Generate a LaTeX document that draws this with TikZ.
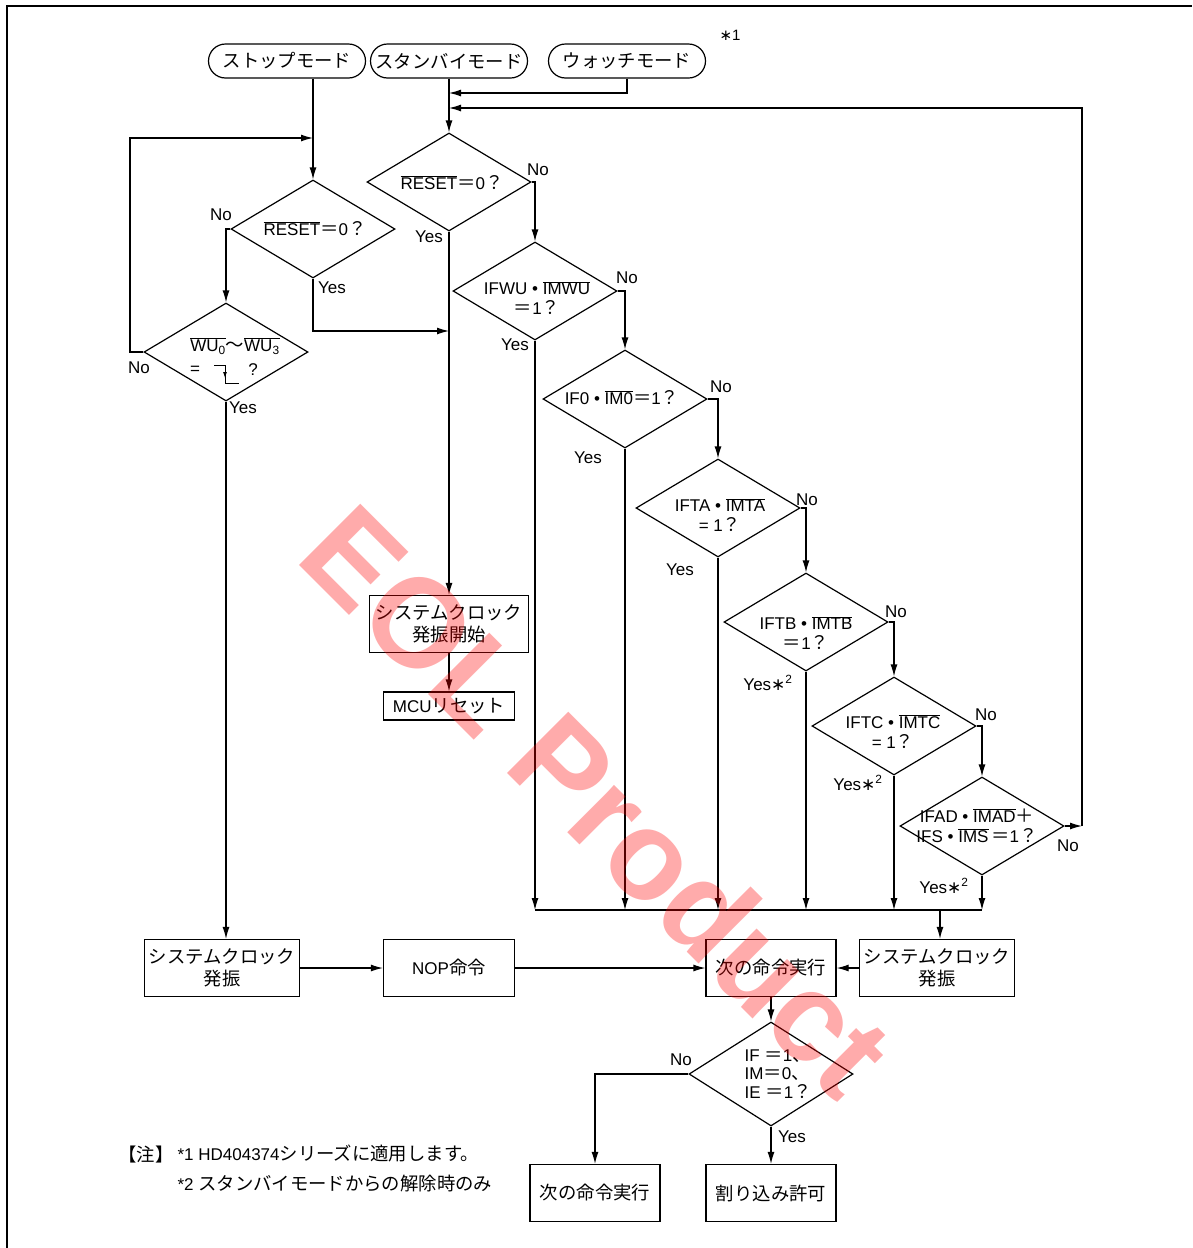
\documentclass[tikz,border=0pt]{standalone}
\usepackage{fontspec}
\setmainfont{Liberation Sans}
\newfontfamily\jp[Scale=1.08]{Noto Sans CJK JP}
\newfontfamily\djv{DejaVu Sans}
\usetikzlibrary{shapes.geometric,shapes.misc,arrows.meta}
\newcommand\J[1]{{\jp #1}}
\newcommand\ovl[1]{$\overline{\mbox{#1}}$}
\newcommand\sstar{{\djv ∗}}
\newcommand\ystar{Yes\sstar\textsuperscript{2}}
\begin{document}
\begin{tikzpicture}[x=1pt,y=-1pt,line width=1.2pt,
  font=\fontsize{17}{22}\selectfont,
  arr/.style={-{Latex[length=12pt,width=7pt]}},
  term/.style={draw,rounded rectangle,minimum width=157pt,minimum height=34pt,inner sep=0pt},
  box/.style={draw,rectangle,minimum width=#1,minimum height=57pt,inner sep=0pt,align=center},
  dia/.style={draw,diamond,minimum width=164pt,minimum height=98pt,inner sep=0pt},
  dtxt/.style={inner sep=0pt,align=center,font=\fontsize{17}{20}\selectfont},
  lbl/.style={inner sep=0pt}]
\useasboundingbox (0,0) rectangle (1192,1248);
\fill[white] (0,0) rectangle (1192,1248);
% frame
\draw[line width=2.5pt] (7,1248) -- (7,6) -- (1192,6);

% terminals
\node[term] (stop) at (287,61) {\J{ストップモード}};
\node[term] (sb) at (449,61) {\J{スタンバイモード}};
\node[term] (watch) at (627,61) {\J{ウォッチモード}};
\node[lbl,font=\fontsize{15}{18}\selectfont] (n1) at (730,35) {\sstar1};

% diamonds
\node[dia] (D1) at (449,182) {};
\node[dtxt] (D1t) at (452,183) {\ovl{RESET}\J{＝}0\J{？}};
\node[dia] (L1) at (313,229) {};
\node[dtxt] (L1t) at (315,229) {\ovl{RESET}\J{＝}0\J{？}};
\node[dia] (WU) at (226,352) {};
\node[dtxt] (WUt) at (235,346) {\ovl{WU\textsubscript{0}}\J{～}\ovl{WU\textsubscript{3}}};
\node[dtxt] (WUeq) at (195,370) {=};
\node[dtxt] (WUq) at (253,370) {?};
\draw[line width=1pt] (214,365) -- (225,365) -- (225,383) -- (239,383);
\draw[-{Latex[length=6pt,width=4pt]},line width=0.8pt] (225,368) -- (225,378);

\node[dia] (D2) at (535,291) {};
\node[dtxt] (D2t) at (537,298) {IFWU \textbullet\ \ovl{IMWU}\\\J{＝}1\J{？}};
\node[dia] (D3) at (625,399) {};
\node[dtxt] (D3t) at (622,398) {IF0 \textbullet\ \ovl{IM0}\J{＝}1\J{？}};
\node[dia] (D4) at (718,508) {};
\node[dtxt] (D4t) at (720,515) {IFTA \textbullet\ \ovl{IMTA}\\= 1\J{？}};
\node[dia] (D5) at (806,622) {};
\node[dtxt] (D5t) at (806,633) {IFTB \textbullet\ \ovl{IMTB}\\\J{＝}1\J{？}};
\node[dia] (D6) at (894,726) {};
\node[dtxt] (D6t) at (893,732) {IFTC \textbullet\ \ovl{IMTC}\\= 1\J{？}};
\node[dia] (D7) at (982,826) {};
\node[dtxt] (D7t) at (977,826) {IFAD \textbullet\ \ovl{IMAD}\J{＋}\\IFS \textbullet\ \ovl{IMS}\,\J{＝}1\J{？}};
\node[dia,minimum height=104pt] (D8) at (771,1074) {};
\node[dtxt,align=left,anchor=west,font=\fontsize{17}{18.5}\selectfont] (D8t) at (744,1074) {IF \J{＝}1\J{、}\\IM\J{＝}0\J{、}\\IE \J{＝}1\J{？}};

% boxes
\node[box=159pt] (scs) at (449,624) {\J{システムクロック}\\\J{発振開始}};
\node[draw,minimum width=131pt,minimum height=28pt,inner sep=0pt] (mcu) at (449,706) {MCU\J{リセット}};
\node[box=155pt] (sc1) at (222,968) {\J{システムクロック}\\\J{発振}};
\node[box=131pt] (nop) at (449,968) {NOP\J{命令}};
\node[box=130pt] (exec) at (771,968) {\J{次の命令実行}};
\node[box=155pt] (sc2) at (937,968) {\J{システムクロック}\\\J{発振}};
\node[box=130pt] (n2) at (595,1193) {\J{次の命令実行}};
\node[box=130pt] (int) at (771,1193) {\J{割り込み許可}};

% coordinates
\coordinate (j1) at (313,138);
\coordinate (lp) at (130,138);
\coordinate (j2) at (449,331);
\coordinate (j3) at (449,93);
\coordinate (j4) at (449,108);
\coordinate (r1) at (1082,826);
\coordinate (m1) at (535,910);
\coordinate (m2) at (982,910);
\coordinate (m3) at (940,910);

% connectors
\draw[arr] (L1.north |- stop.south) -- (L1.north);
\draw[arr] (WU.west) -| (lp) -- (j1);
\draw[arr] (L1.west) -| (WU.north);
\draw[arr] (L1.south) |- (j2);
\draw[arr] (WU.south) -- (WU.south |- sc1.north);
\draw[arr] (sc1) -- (nop);
\draw[arr] (nop) -- (exec);
\draw[arr] (sc2) -- (exec);
\draw[arr] (sb.south) -- (D1.north);
\draw[arr] (watch.south) |- (j3);
\draw[arr] (D7.east) -- (r1);
\draw[arr] (r1) |- (j4);
\draw[arr] (D1.east) -| (D2.north);
\draw[arr] (D1.south) -- (scs.north);
\draw[arr] (scs) -- (mcu);
\draw[arr] (D2.east) -| (D3.north);
\draw[arr] (D3.east) -| (D4.north);
\draw[arr] (D4.east) -| (D5.north);
\draw[arr] (D5.east) -| (D6.north);
\draw[arr] (D6.east) -| (D7.north);
\draw[arr] (D2.south) -- (D2.south |- m1);
\draw[arr] (D3.south) -- (D3.south |- m1);
\draw[arr] (D4.south) -- (D4.south |- m1);
\draw[arr] (D5.south) -- (D5.south |- m1);
\draw[arr] (D6.south) -- (D6.south |- m1);
\draw[arr] (D7.south) -- (D7.south |- m1);
\draw (m1) -- (m2);
\draw[arr] (m3) -- (m3 |- sc2.north);
\draw[arr] (exec) -- (D8.north);
\draw[arr] (D8.west) -| (n2.north);
\draw[arr] (D8.south) -- (int.north);

% labels
\node[lbl] (l1) at (538,170) {No};
\node[lbl] (l2) at (429,237) {Yes};
\node[lbl] (l3) at (221,215) {No};
\node[lbl] (l4) at (332,288) {Yes};
\node[lbl] (l5) at (139,368) {No};
\node[lbl] (l6) at (243,408) {Yes};
\node[lbl] (l7) at (627,278) {No};
\node[lbl] (l8) at (515,345) {Yes};
\node[lbl] (l9) at (721,387) {No};
\node[lbl] (l10) at (588,458) {Yes};
\node[lbl] (l11) at (807,500) {No};
\node[lbl] (l12) at (680,570) {Yes};
\node[lbl] (l13) at (896,612) {No};
\node[lbl] (l14) at (768,683) {\ystar};
\node[lbl] (l15) at (986,715) {No};
\node[lbl] (l16) at (858,783) {\ystar};
\node[lbl] (l17) at (1068,846) {No};
\node[lbl] (l18) at (944,886) {\ystar};
\node[lbl] (l19) at (681,1060) {No};
\node[lbl] (l20) at (792,1137) {Yes};

% notes
\node[lbl,anchor=west] (nt0) at (118,1155) {\J{【注】}};
\node[lbl,anchor=west] (nt1) at (177,1153) {*1 HD404374\J{シリーズに適用します。}};
\node[lbl,anchor=west] (nt2) at (177,1184) {*2 \J{スタンバイモードからの解除時のみ}};

% watermark
\node[rotate=-45,text=red,opacity=0.33,inner sep=0pt,font=\fontsize{126}{126}\selectfont\bfseries] (wm) at (598,800) {EOL Product};
\end{tikzpicture}
\end{document}
